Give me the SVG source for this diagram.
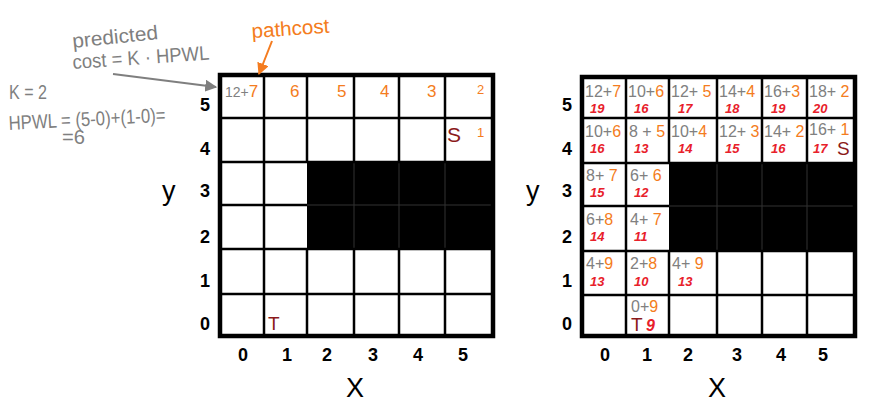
<svg xmlns="http://www.w3.org/2000/svg" width="869" height="409" viewBox="0 0 869 409">
<style>
text{font-family:"Liberation Sans","Noto Sans",Arial,sans-serif;}
.gr{fill:#808080;}
.or{fill:#f47c20;}
.rd{fill:#e8202a;}
.dr{fill:#8b1a1a;}
.ax{fill:#000;font-size:18px;font-weight:bold;}
.axl{fill:#000;font-size:27px;}
.ann{fill:#7f7f7f;font-size:20px;}
.c1{font-size:16px;}
.c2{font-size:13px;font-style:italic;font-weight:bold;}
.inner{stroke:#000;stroke-width:2.5;fill:none;}
.outer{stroke:#000;stroke-width:4.5;fill:none;}
.blk{fill:#000;}
.bl{stroke:#333;stroke-width:1;}
</style>
<defs>
<marker id="ag" viewBox="0 0 10 10" refX="9" refY="5" markerWidth="6" markerHeight="6" orient="auto"><path d="M0,0 L10,5 L0,10 z" fill="#7f7f7f"/></marker>
<marker id="ao" viewBox="0 0 10 10" refX="9" refY="5" markerWidth="6" markerHeight="6" orient="auto"><path d="M0,0 L10,5 L0,10 z" fill="#f47c20"/></marker>
</defs>
<rect width="869" height="409" fill="#fff"/>

<!-- Annotations -->
<g id="annotation-predicted">
<text class="ann" x="73" y="48" transform="rotate(-6 73 48)" textLength="86" lengthAdjust="spacingAndGlyphs">predicted</text>
<text class="ann" x="73" y="69" transform="rotate(-4 73 69)" textLength="137" lengthAdjust="spacingAndGlyphs">cost = K · HPWL</text>
</g>
<g id="annotation-pathcost">
<text class="or" x="252" y="38" font-size="20" transform="rotate(-4 252 38)" textLength="78" lengthAdjust="spacingAndGlyphs">pathcost</text>
</g>
<g id="annotation-hpwl">
<text class="ann" x="9" y="99" textLength="38" lengthAdjust="spacingAndGlyphs">K = 2</text>
<text class="ann" x="9" y="130" transform="rotate(-3 9 130)" textLength="157" lengthAdjust="spacingAndGlyphs">HPWL = (5-0)+(1-0)=</text>
<text class="ann" x="62" y="144" textLength="23" lengthAdjust="spacingAndGlyphs">=6</text>
</g>

<!-- Left grid -->
<g id="left-grid">
<rect x="220" y="75" width="273" height="261" fill="#fff"/>
<rect class="blk" x="307" y="162" width="186" height="87"/>
<line class="bl" x1="354" y1="162" x2="354" y2="249"/>
<line class="bl" x1="399" y1="162" x2="399" y2="249"/>
<line class="bl" x1="445" y1="162" x2="445" y2="249"/>
<line class="bl" x1="307" y1="205" x2="493" y2="205"/>
<path class="inner" d="M264,75V336 M307,75V162 M307,249V336 M354,75V162 M354,249V336 M399,75V162 M399,249V336 M445,75V162 M445,249V336 M220,118H493 M220,162H493 M220,205H307 M220,249H493 M220,294H493"/>
<rect class="outer" x="220" y="75" width="273" height="261"/>
</g>
<g id="left-cells">
<text x="225" y="97"><tspan class="gr" font-size="14">12+</tspan><tspan class="or" font-size="17">7</tspan></text>
<text class="or" x="290" y="97" font-size="17">6</text>
<text class="or" x="337" y="97" font-size="17">5</text>
<text class="or" x="380" y="97" font-size="17">4</text>
<text class="or" x="427" y="97" font-size="17">3</text>
<text class="or" x="477" y="94" font-size="13">2</text>
<text class="dr" x="447" y="142" font-size="21">S</text>
<text class="or" x="477" y="137" font-size="13">1</text>
<text class="dr" x="268" y="330" font-size="19">T</text>
</g>
<g id="left-axes">
<text class="ax" x="200" y="111">5</text>
<text class="ax" x="200" y="155">4</text>
<text class="ax" x="200" y="197">3</text>
<text class="ax" x="200" y="243">2</text>
<text class="ax" x="200" y="287">1</text>
<text class="ax" x="200" y="330">0</text>
<text class="axl" x="162" y="200">y</text>
<text class="ax" x="238" y="361">0</text>
<text class="ax" x="282" y="361">1</text>
<text class="ax" x="322" y="361">2</text>
<text class="ax" x="368" y="361">3</text>
<text class="ax" x="413" y="361">4</text>
<text class="ax" x="458" y="361">5</text>
<text class="axl" x="346" y="397">X</text>
</g>

<!-- Right grid -->
<g id="right-grid">
<rect x="582" y="77" width="273" height="259" fill="#fff"/>
<rect class="blk" x="669" y="163" width="186" height="88"/>
<line class="bl" x1="717" y1="163" x2="717" y2="251"/>
<line class="bl" x1="762" y1="163" x2="762" y2="251"/>
<line class="bl" x1="807" y1="163" x2="807" y2="251"/>
<line class="bl" x1="669" y1="206" x2="855" y2="206"/>
<path class="inner" d="M626,77V336 M669,77V163 M669,251V336 M717,77V163 M717,251V336 M762,77V163 M762,251V336 M807,77V163 M807,251V336 M582,118H855 M582,163H855 M582,206H669 M582,251H855 M582,295H855"/>
<rect class="outer" x="582" y="77" width="273" height="259"/>
</g>
<g id="right-cells">
<g id="cell-0-5"><text class="c1" x="585" y="97"><tspan class="gr">12+</tspan><tspan class="or">7</tspan></text><text class="c2 rd" x="590" y="113">19</text></g>
<g id="cell-1-5"><text class="c1" x="628" y="97"><tspan class="gr">10+</tspan><tspan class="or">6</tspan></text><text class="c2 rd" x="634" y="113">16</text></g>
<g id="cell-2-5"><text class="c1" x="671" y="97"><tspan class="gr">12+ </tspan><tspan class="or">5</tspan></text><text class="c2 rd" x="678" y="113">17</text></g>
<g id="cell-3-5"><text class="c1" x="719" y="97"><tspan class="gr">14+</tspan><tspan class="or">4</tspan></text><text class="c2 rd" x="725" y="113">18</text></g>
<g id="cell-4-5"><text class="c1" x="764" y="97"><tspan class="gr">16+</tspan><tspan class="or">3</tspan></text><text class="c2 rd" x="771" y="113">19</text></g>
<g id="cell-5-5"><text class="c1" x="809" y="97"><tspan class="gr">18+ </tspan><tspan class="or">2</tspan></text><text class="c2 rd" x="813" y="113">20</text></g>

<g id="cell-0-4"><text class="c1" x="585" y="137"><tspan class="gr">10+</tspan><tspan class="or">6</tspan></text><text class="c2 rd" x="590" y="153">16</text></g>
<g id="cell-1-4"><text class="c1" x="629" y="137"><tspan class="gr">8 + </tspan><tspan class="or">5</tspan></text><text class="c2 rd" x="634" y="153">13</text></g>
<g id="cell-2-4"><text class="c1" x="671" y="137"><tspan class="gr">10+</tspan><tspan class="or">4</tspan></text><text class="c2 rd" x="678" y="153">14</text></g>
<g id="cell-3-4"><text class="c1" x="719" y="137"><tspan class="gr">12+ </tspan><tspan class="or">3</tspan></text><text class="c2 rd" x="725" y="153">15</text></g>
<g id="cell-4-4"><text class="c1" x="764" y="137"><tspan class="gr">14+ </tspan><tspan class="or">2</tspan></text><text class="c2 rd" x="771" y="153">16</text></g>
<g id="cell-5-4"><text class="c1" x="809" y="135"><tspan class="gr">16+ </tspan><tspan class="or">1</tspan></text><text class="c2 rd" x="813" y="153">17</text><text class="dr" x="837" y="155" font-size="19">S</text></g>

<g id="cell-0-3"><text class="c1" x="586" y="181"><tspan class="gr">8+ </tspan><tspan class="or">7</tspan></text><text class="c2 rd" x="590" y="197">15</text></g>
<g id="cell-1-3"><text class="c1" x="630" y="181"><tspan class="gr">6+ </tspan><tspan class="or">6</tspan></text><text class="c2 rd" x="634" y="197">12</text></g>

<g id="cell-0-2"><text class="c1" x="586" y="225"><tspan class="gr">6+</tspan><tspan class="or">8</tspan></text><text class="c2 rd" x="590" y="241">14</text></g>
<g id="cell-1-2"><text class="c1" x="630" y="225"><tspan class="gr">4+ </tspan><tspan class="or">7</tspan></text><text class="c2 rd" x="634" y="241">11</text></g>

<g id="cell-0-1"><text class="c1" x="586" y="269"><tspan class="gr">4+</tspan><tspan class="or">9</tspan></text><text class="c2 rd" x="590" y="286">13</text></g>
<g id="cell-1-1"><text class="c1" x="630" y="269"><tspan class="gr">2+</tspan><tspan class="or">8</tspan></text><text class="c2 rd" x="634" y="286">10</text></g>
<g id="cell-2-1"><text class="c1" x="672" y="269"><tspan class="gr">4+ </tspan><tspan class="or">9</tspan></text><text class="c2 rd" x="678" y="286">13</text></g>

<g id="cell-1-0"><text class="c1" x="631" y="312"><tspan class="gr">0+</tspan><tspan class="or">9</tspan></text><text class="dr" x="631" y="331" font-size="19">T</text><text class="rd" x="646" y="331" font-size="16" font-weight="bold" font-style="italic">9</text></g>
</g>
<g id="right-axes">
<text class="ax" x="562" y="111">5</text>
<text class="ax" x="562" y="155">4</text>
<text class="ax" x="562" y="197">3</text>
<text class="ax" x="562" y="243">2</text>
<text class="ax" x="562" y="287">1</text>
<text class="ax" x="562" y="330">0</text>
<text class="axl" x="526" y="200">y</text>
<text class="ax" x="600" y="361">0</text>
<text class="ax" x="642" y="361">1</text>
<text class="ax" x="683" y="361">2</text>
<text class="ax" x="732" y="361">3</text>
<text class="ax" x="776" y="361">4</text>
<text class="ax" x="818" y="361">5</text>
<text class="axl" x="708" y="397">X</text>
</g>

<!-- Connectors -->
<g id="connectors">
<path d="M113,74 L216,87" stroke="#7f7f7f" stroke-width="2" fill="none" marker-end="url(#ag)"/>
<path d="M272,41 L259,74" stroke="#f47c20" stroke-width="2" fill="none" marker-end="url(#ao)"/>
</g>
</svg>
